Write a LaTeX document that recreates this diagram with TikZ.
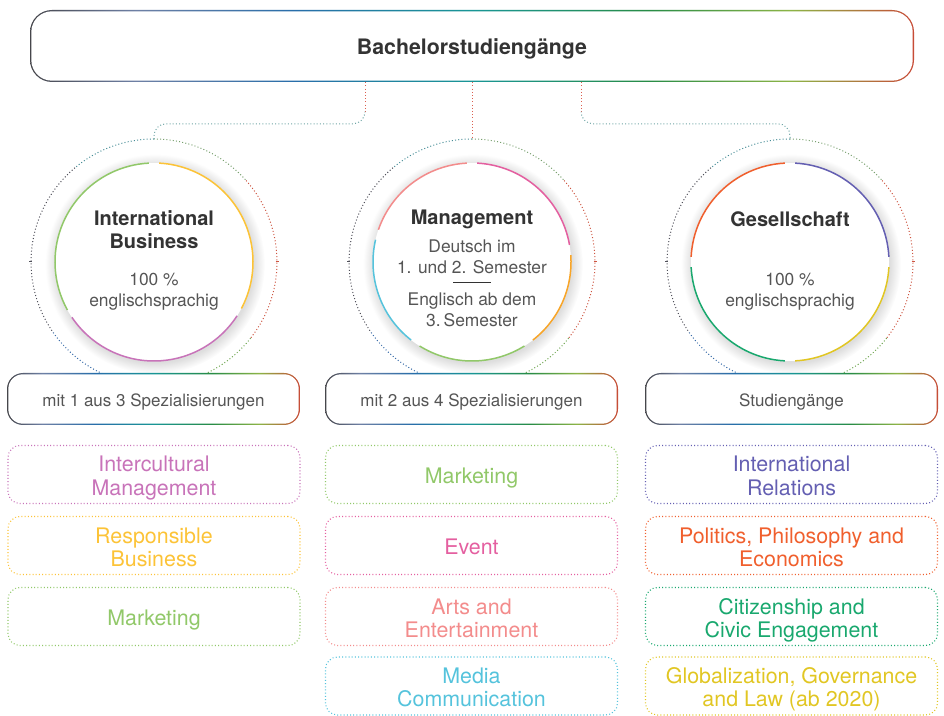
\documentclass[tikz,border=0pt]{standalone}
\usepackage{fontspec}
\setmainfont{TeX Gyre Heros}
\usepackage{tikz}
\usetikzlibrary{shadows}

\definecolor{headgray}{RGB}{51,51,51}
\definecolor{bodygray}{RGB}{85,85,85}
% edge colours of the framed boxes
\definecolor{rbgray}{RGB}{70,70,75}
\definecolor{rbslate}{RGB}{110,128,165}
\definecolor{rbblue}{RGB}{40,110,170}
\definecolor{rbteal}{RGB}{25,150,150}
\definecolor{rbgreen}{RGB}{40,140,70}
\definecolor{rbolive}{RGB}{140,180,70}
\definecolor{rbred}{RGB}{200,75,55}
% programme colours
\definecolor{mgreen}{RGB}{145,200,105}
\definecolor{ipink}{RGB}{200,115,185}
\definecolor{ryellow}{RGB}{252,195,55}
\definecolor{evpink}{RGB}{228,95,160}
\definecolor{artsalmon}{RGB}{243,140,140}
\definecolor{mediacyan}{RGB}{85,195,220}
\definecolor{morange}{RGB}{248,165,40}
\definecolor{irviolet}{RGB}{100,95,178}
\definecolor{ppered}{RGB}{240,95,45}
\definecolor{ccgreen}{RGB}{25,168,110}
\definecolor{glyellow}{RGB}{225,198,35}
% dotted rims and links
\definecolor{rimteal}{RGB}{70,140,150}
\definecolor{rimgray}{RGB}{80,80,90}
\definecolor{rimblue}{RGB}{60,110,170}
\definecolor{rimgreen}{RGB}{110,165,80}
\definecolor{rimred}{RGB}{205,85,65}
\definecolor{rimolive}{RGB}{120,160,110}
\definecolor{linkred}{RGB}{220,95,80}
\definecolor{linkteal}{RGB}{110,165,165}

\pgfdeclarehorizontalshading{rainbow}{100bp}{color(0bp)=(rbgray); color(25bp)=(rbgray);
  color(31bp)=(rbslate); color(40bp)=(rbblue); color(50bp)=(rbteal); color(60bp)=(rbgreen);
  color(68bp)=(rbolive); color(75bp)=(rbred); color(100bp)=(rbred)}
\pgfdeclareradialshading{halo}{\pgfpoint{0bp}{0bp}}{color(0bp)=(black!13); color(22.4bp)=(black!13);
  color(25bp)=(white); color(50bp)=(white)}

\begin{document}
\begin{tikzpicture}[x=1pt, y=1pt,
  gradbox/.style={shading=rainbow, rounded corners=#1, inner sep=0pt, text=bodygray,
    path picture={\fill[white, rounded corners=#1-1.3pt]
      ([shift={(1.3pt,1.3pt)}]path picture bounding box.south west) rectangle
      ([shift={(-1.3pt,-1.3pt)}]path picture bounding box.north east);}},
  choice/.style={gradbox=16pt, minimum width=293pt, minimum height=52pt,
    text height=14.5pt, text depth=0pt, font=\fontsize{17}{21}\selectfont},
  ring/.style={circle, minimum size=198pt, inner sep=0pt, fill=white},
  rim/.style={circle, minimum size=246pt, inner sep=0pt},
  arcline/.style={line width=1.5pt},
  rimline/.style={line width=1pt, dash pattern=on 1pt off 2.2pt},
  link/.style={line width=1pt, dash pattern=on 1pt off 2.2pt},
  head/.style={align=center, text=headgray, font=\fontsize{20}{23}\selectfont\bfseries},
  body/.style={align=center, text=bodygray, font=\fontsize{17.4}{21}\selectfont},
  spec/.style={draw=#1, text=#1, line width=1.1pt, dash pattern=on 1pt off 2.2pt,
    rounded corners=12pt, minimum width=292pt, minimum height=58pt, inner sep=0pt,
    align=center, font=\fontsize{21.4}{23}\selectfont, text height=22pt, text depth=4pt},
  tworow/.style={text height=45pt}]

\useasboundingbox (0,0) rectangle (944,715);

% head box
\node[gradbox=22pt, minimum width=884pt, minimum height=72pt, text=headgray,
  text height=17.4pt, text depth=0pt,
  font=\fontsize{21.3}{25}\selectfont\bfseries] (top) at (472,669) {Bachelorstudiengänge};

% the three programmes
\node[rim] (ibo) at (154,453) {};
\node[rim] (mgo) at (472,453) {};
\node[rim] (geo) at (790,453) {};

\foreach \n in {ibo,mgo,geo}{
  \foreach \a/\b/\c in {90/130/rimteal, 130/215/rimgray, 215/290/rimblue,
                        290/322/rimgreen, 322/402/rimred, 402/450/rimolive}
    \draw[rimline, \c] ([shift={(\a:123)}]\n.center) arc[start angle=\a, end angle=\b, radius=123];
  \draw[rimgray, line width=1pt] ([xshift=-1.5pt]\n.west) -- ([xshift=1.5pt]\n.west);
  \draw[rimred, line width=1pt] ([xshift=-1.5pt]\n.east) -- ([xshift=1.5pt]\n.east);
  \shade[shading=halo] ([shift={(1pt,-2pt)}]\n.center) circle (110);
}

\node[ring] (ib) at (154,453) {};
\node[ring] (mg) at (472,453) {};
\node[ring] (ge) at (790,453) {};

\foreach \a/\b/\c in {93/209/mgreen, 214/327/ipink, 332/447/ryellow}
  \draw[arcline, \c] ([shift={(\a:99)}]ib.center) arc[start angle=\a, end angle=\b, radius=99];
\foreach \a/\b/\c in {10/87/evpink, 93/161/artsalmon, 167/232/mediacyan, 238/302/mgreen, 308/364/morange}
  \draw[arcline, \c] ([shift={(\a:99)}]mg.center) arc[start angle=\a, end angle=\b, radius=99];
\foreach \a/\b/\c in {3/87/irviolet, 93/177/ppered, 183/267/ccgreen, 273/357/glyellow}
  \draw[arcline, \c] ([shift={(\a:99)}]ge.center) arc[start angle=\a, end angle=\b, radius=99];

\node[head] (ibname) at ([yshift=32pt]ib.center) {International\\Business};
\node[body] (iblang) at ([yshift=-30pt]ib.center) {100 \%\\englischsprachig};

\node[head] (mgname) at ([yshift=43pt]mg.center) {Management};
\node[body] (mgde) at ([yshift=5pt]mg.center) {Deutsch im\\1. und 2. Semester};
\draw[headgray, line width=0.8pt] ([shift={(-19pt,-20pt)}]mg.center) -- ([shift={(19pt,-20pt)}]mg.center);
\node[body] (mgen) at ([yshift=-48pt]mg.center) {Englisch ab dem\\3.\,Semester};

\node[head] (gename) at ([yshift=43pt]ge.center) {Gesellschaft};
\node[body] (gelang) at ([yshift=-30pt]ge.center) {100 \%\\englischsprachig};

% links from the head box
\coordinate (tl) at ([xshift=-107pt]top.south);
\coordinate (tlb) at ([yshift=-30pt]tl);
\coordinate (tr) at ([xshift=109pt]top.south);
\coordinate (trb) at ([yshift=-30pt]tr);
\draw[link, linkred] (tl) -- (tlb);
\draw[link, linkteal, rounded corners=12pt] (tlb) |- ([yshift=15pt]ibo.north) -- (ibo.north);
\draw[link, linkred] (top.south) -- (mgo.north);
\draw[link, linkred] (tr) -- (trb);
\draw[link, linkteal, rounded corners=12pt] (trb) |- ([yshift=15pt]geo.north) -- (geo.north);

% choice boxes
\node[choice] (ibchoice) at (153.5,316) {mit 1 aus 3 Spezialisierungen};
\node[choice] (mgchoice) at (471.5,316) {mit 2 aus 4 Spezialisierungen};
\node[choice] (gechoice) at (791.5,316) {Studiengänge};

% specialisations
\node[spec=ipink, tworow] (icm) at (154,240.5) {Intercultural\\Management};
\node[spec=ryellow, tworow] (rb) at (154,169.5) {Responsible\\Business};
\node[spec=mgreen] (mkib) at (154,98.5) {Marketing};

\node[spec=mgreen] (mkmg) at (471.5,240.5) {Marketing};
\node[spec=evpink] (ev) at (471.5,169.5) {Event};
\node[spec=artsalmon, tworow] (ae) at (471.5,98.5) {Arts and\\Entertainment};
\node[spec=mediacyan, tworow] (mc) at (471.5,29) {Media\\Communication};

\node[spec=irviolet, tworow] (ir) at (791.5,240.5) {International\\Relations};
\node[spec=ppered, tworow] (ppe) at (791.5,169.5) {Politics, Philosophy and\\Economics};
\node[spec=ccgreen, tworow] (cce) at (791.5,98.5) {Citizenship and\\Civic Engagement};
\node[spec=glyellow, tworow] (ggl) at (791.5,29) {Globalization, Governance\\and Law (ab 2020)};

\end{tikzpicture}
\end{document}
